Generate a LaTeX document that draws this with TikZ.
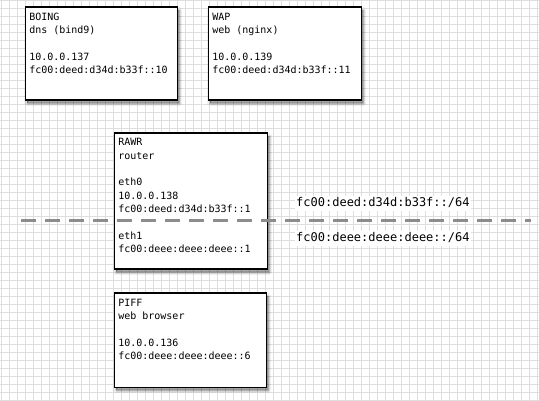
\documentclass[tikz,border=0pt]{standalone}
\usepackage{fontspec}
\newfontfamily\hostmono{DejaVu Sans Mono}
\usetikzlibrary{shadows}
\definecolor{gridc}{HTML}{DEDEDE}
\definecolor{dashc}{HTML}{8C8C8C}
\tikzset{
  gridline/.style={draw=gridc, line width=0.9pt},
  hostbox/.style={draw=black, line width=1.3pt, fill=white, rectangle, anchor=north west, inner sep=0pt,
    general shadow={shadow xshift=2pt, shadow yshift=-3pt, fill=black, draw=black, line width=6pt, line join=round, opacity=0.06},
    general shadow={shadow xshift=2pt, shadow yshift=-3pt, fill=black, draw=black, line width=3pt, line join=round, opacity=0.10},
    general shadow={shadow xshift=2pt, shadow yshift=-3pt, fill=black, draw=black, line width=1pt, line join=round, opacity=0.18}},
  hosttext/.style={anchor=north west, inner sep=0pt, align=left, font=\hostmono\fontsize{10pt}{13.33pt}\selectfont},
  netline/.style={draw=dashc, line width=3pt, dash pattern=on 15pt off 9pt},
  netlabel/.style={anchor=base west, fill=white, inner sep=1.5pt, text height=9.5pt, text depth=3pt, font=\hostmono\fontsize{12pt}{14pt}\selectfont}
}
\begin{document}
\begin{tikzpicture}[x=1pt, y=-1pt]
\useasboundingbox (0,0) rectangle (539,401);
\fill[white] (0,0) rectangle (539,401);
\foreach \gx in {0,...,67} {\draw[gridline] (1.5+8*\gx,0) -- (1.5+8*\gx,401);}
\foreach \gy in {0,...,50} {\draw[gridline] (0,0.5+8*\gy) -- (539,0.5+8*\gy);}

\node[hostbox, minimum width=152pt, minimum height=93pt] (boing) at (24.5,6.5) {};
\node[hostbox, minimum width=153pt, minimum height=93pt] (wap) at (207.5,6.5) {};
\node[hostbox, minimum width=153pt, minimum height=136pt] (rawr) at (113.5,132.5) {};
\node[hostbox, minimum width=152pt, minimum height=94pt] (piff) at (113.5,292.5) {};

\node[hosttext] (boingtxt) at ([shift={(4.6pt,-6.4pt)}]boing.north west) {BOING\\dns (bind9)\\\mbox{}\\10.0.0.137\\fc00:deed:d34d:b33f::10};
\node[hosttext] (waptxt) at ([shift={(4.6pt,-6.4pt)}]wap.north west) {WAP\\web (nginx)\\\mbox{}\\10.0.0.139\\fc00:deed:d34d:b33f::11};
\node[hosttext] (rawrtxt) at ([shift={(4.6pt,-6.0pt)}]rawr.north west) {RAWR\\router\\\mbox{}\\eth0\\10.0.0.138\\fc00:deed:d34d:b33f::1\\\mbox{}\\eth1\\fc00:deee:deee:deee::1};
\node[hosttext] (pifftxt) at ([shift={(4.6pt,-6.6pt)}]piff.north west) {PIFF\\web browser\\\mbox{}\\10.0.0.136\\fc00:deee:deee:deee::6};

\coordinate (netL) at (21,220.5);
\coordinate (netR) at (531,220.5);
\draw[netline] (netL) -- (netR);

\node[netlabel] (deedlbl) at (294.5,206.7) {fc00:deed:d34d:b33f::/64};
\node[netlabel] (deeelbl) at (294.5,241.7) {fc00:deee:deee:deee::/64};
\end{tikzpicture}
\end{document}
